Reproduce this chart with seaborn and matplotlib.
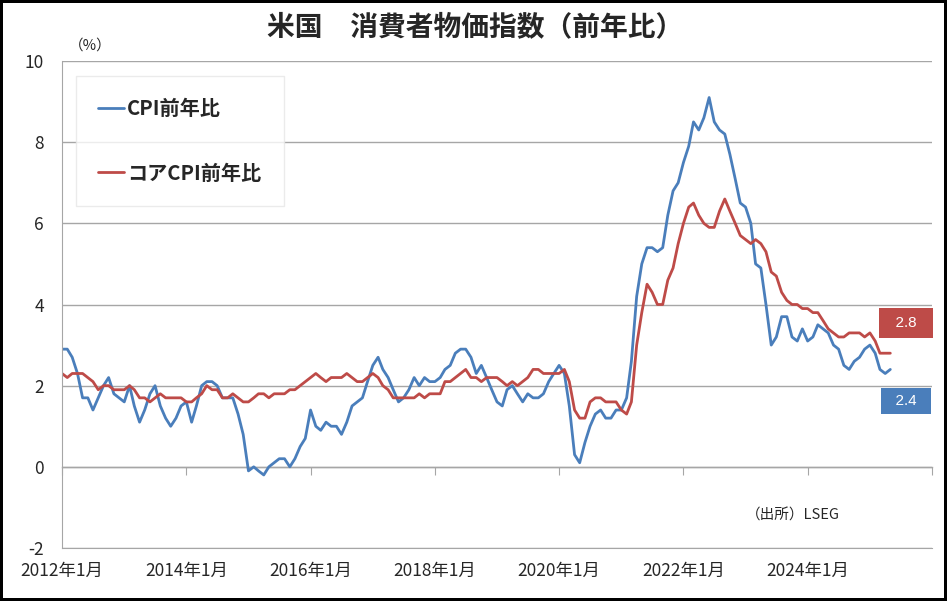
import numpy as np
import pandas as pd
import matplotlib
matplotlib.use("Agg")
import matplotlib.pyplot as plt
import seaborn as sns

# monthly YoY (%), Jan 2012 - May 2025
cpi = [
    2.9, 2.9, 2.7, 2.3, 1.7, 1.7, 1.4, 1.7, 2.0, 2.2, 1.8, 1.7,   # 2012
    1.6, 2.0, 1.5, 1.1, 1.4, 1.8, 2.0, 1.5, 1.2, 1.0, 1.2, 1.5,   # 2013
    1.6, 1.1, 1.5, 2.0, 2.1, 2.1, 2.0, 1.7, 1.7, 1.7, 1.3, 0.8,   # 2014
    -0.1, 0.0, -0.1, -0.2, 0.0, 0.1, 0.2, 0.2, 0.0, 0.2, 0.5, 0.7,  # 2015
    1.4, 1.0, 0.9, 1.1, 1.0, 1.0, 0.8, 1.1, 1.5, 1.6, 1.7, 2.1,   # 2016
    2.5, 2.7, 2.4, 2.2, 1.9, 1.6, 1.7, 1.9, 2.2, 2.0, 2.2, 2.1,   # 2017
    2.1, 2.2, 2.4, 2.5, 2.8, 2.9, 2.9, 2.7, 2.3, 2.5, 2.2, 1.9,   # 2018
    1.6, 1.5, 1.9, 2.0, 1.8, 1.6, 1.8, 1.7, 1.7, 1.8, 2.1, 2.3,   # 2019
    2.5, 2.3, 1.5, 0.3, 0.1, 0.6, 1.0, 1.3, 1.4, 1.2, 1.2, 1.4,   # 2020
    1.4, 1.7, 2.6, 4.2, 5.0, 5.4, 5.4, 5.3, 5.4, 6.2, 6.8, 7.0,   # 2021
    7.5, 7.9, 8.5, 8.3, 8.6, 9.1, 8.5, 8.3, 8.2, 7.7, 7.1, 6.5,   # 2022
    6.4, 6.0, 5.0, 4.9, 4.0, 3.0, 3.2, 3.7, 3.7, 3.2, 3.1, 3.4,   # 2023
    3.1, 3.2, 3.5, 3.4, 3.3, 3.0, 2.9, 2.5, 2.4, 2.6, 2.7, 2.9,   # 2024
    3.0, 2.8, 2.4, 2.3, 2.4,                                      # 2025
]
core = [
    2.3, 2.2, 2.3, 2.3, 2.3, 2.2, 2.1, 1.9, 2.0, 2.0, 1.9, 1.9,
    1.9, 2.0, 1.9, 1.7, 1.7, 1.6, 1.7, 1.8, 1.7, 1.7, 1.7, 1.7,
    1.6, 1.6, 1.7, 1.8, 2.0, 1.9, 1.9, 1.7, 1.7, 1.8, 1.7, 1.6,
    1.6, 1.7, 1.8, 1.8, 1.7, 1.8, 1.8, 1.8, 1.9, 1.9, 2.0, 2.1,
    2.2, 2.3, 2.2, 2.1, 2.2, 2.2, 2.2, 2.3, 2.2, 2.1, 2.1, 2.2,
    2.3, 2.2, 2.0, 1.9, 1.7, 1.7, 1.7, 1.7, 1.7, 1.8, 1.7, 1.8,
    1.8, 1.8, 2.1, 2.1, 2.2, 2.3, 2.4, 2.2, 2.2, 2.1, 2.2, 2.2,
    2.2, 2.1, 2.0, 2.1, 2.0, 2.1, 2.2, 2.4, 2.4, 2.3, 2.3, 2.3,
    2.3, 2.4, 2.1, 1.4, 1.2, 1.2, 1.6, 1.7, 1.7, 1.6, 1.6, 1.6,
    1.4, 1.3, 1.6, 3.0, 3.8, 4.5, 4.3, 4.0, 4.0, 4.6, 4.9, 5.5,
    6.0, 6.4, 6.5, 6.2, 6.0, 5.9, 5.9, 6.3, 6.6, 6.3, 6.0, 5.7,
    5.6, 5.5, 5.6, 5.5, 5.3, 4.8, 4.7, 4.3, 4.1, 4.0, 4.0, 3.9,
    3.9, 3.8, 3.8, 3.6, 3.4, 3.3, 3.2, 3.2, 3.3, 3.3, 3.3, 3.2,
    3.3, 3.1, 2.8, 2.8, 2.8,
]
dates = pd.date_range("2012-01-01", periods=len(cpi), freq="MS")
tick_years = [2012, 2014, 2016, 2018, 2020, 2022, 2024, 2026]
tick_labels = ["2012年1月", "2014年1月", "2016年1月", "2018年1月",
               "2020年1月", "2022年1月", "2024年1月", ""]
yticks = [-2, 0, 2, 4, 6, 8, 10]

BLUE = "#4a7ebb"
RED = "#be4b48"
GRID = "#a6a6a6"

sns.set_style("white")
plt.rcParams["font.family"] = ["Noto Sans CJK JP", "DejaVu Sans"]

df = pd.DataFrame({"date": dates, "cpi": cpi, "core": core})

fig = plt.figure(figsize=(9.47, 6.01), dpi=100)
fig.patch.set_edgecolor("black")
fig.patch.set_linewidth(3)
ax = fig.add_axes([62 / 947, 53 / 601, 870 / 947, 487 / 601])

sns.lineplot(data=df, x="date", y="cpi", ax=ax, color=BLUE, linewidth=2,
             label="CPI前年比")
sns.lineplot(data=df, x="date", y="core", ax=ax, color=RED, linewidth=2,
             label="コアCPI前年比")

ax.set_xlim(pd.Timestamp("2012-01-01"), pd.Timestamp("2026-01-01"))
ax.set_ylim(-2, 10)
ax.set_yticks(yticks)
ax.set_yticklabels([str(v) for v in yticks], fontsize=12.5)
ax.yaxis.grid(True, color=GRID, linewidth=1)
ax.xaxis.grid(False)
ax.set_xlabel("")
ax.set_ylabel("")

xt = [pd.Timestamp(f"{y}-01-01") for y in tick_years]
ax.set_xticks(xt)
ax.set_xticklabels(tick_labels, fontsize=12.5)
ax.tick_params(axis="x", length=0, pad=10)
ax.tick_params(axis="y", length=6, color=GRID, direction="out", pad=7)

for s in ["top", "right"]:
    ax.spines[s].set_visible(False)
ax.spines["left"].set_color(GRID)
ax.spines["bottom"].set_color(GRID)

# tick marks along the zero line
sec = ax.secondary_xaxis(1 / 6)
sec.set_xticks(xt)
sec.set_xticklabels([""] * len(xt))
sec.tick_params(axis="x", length=6, color=GRID, direction="out")
sec.spines["bottom"].set_color(GRID)
sec.spines["bottom"].set_linewidth(1)

leg = ax.legend(loc="upper left", bbox_to_anchor=(0.016, 0.969), frameon=True,
                fancybox=False, edgecolor="#e6e6e6", handlelength=1.3,
                handletextpad=0.15, labelspacing=2.15, borderpad=1.1,
                borderaxespad=0, prop={"weight": "bold", "size": 14.5})
leg.get_frame().set_linewidth(1)

# latest-value boxes
ax.text(0.970, 0.462, f"  {core[-1]:.1f}  ", transform=ax.transAxes, ha="center",
        va="center", color="white", fontsize=11, family="Liberation Sans",
        bbox=dict(boxstyle="square,pad=0.5", fc=RED, ec="none"))
ax.text(0.970, 0.302, f"  {cpi[-1]:.1f}  ", transform=ax.transAxes, ha="center",
        va="center", color="white", fontsize=11, family="Liberation Sans",
        bbox=dict(boxstyle="square,pad=0.4", fc=BLUE, ec="none"))

ax.text(0.894, 0.066, "（出所）LSEG", transform=ax.transAxes, ha="right",
        va="center", fontsize=10.5)

fig.text(90 / 947, 1 - 46 / 601, "（%）", ha="center", va="center", fontsize=10.5)
fig.text(475 / 947, 1 - 27 / 601, "米国　消費者物価指数（前年比）", ha="center",
         va="center", fontsize=20, weight="bold")

fig.savefig("out.png", dpi=100)
